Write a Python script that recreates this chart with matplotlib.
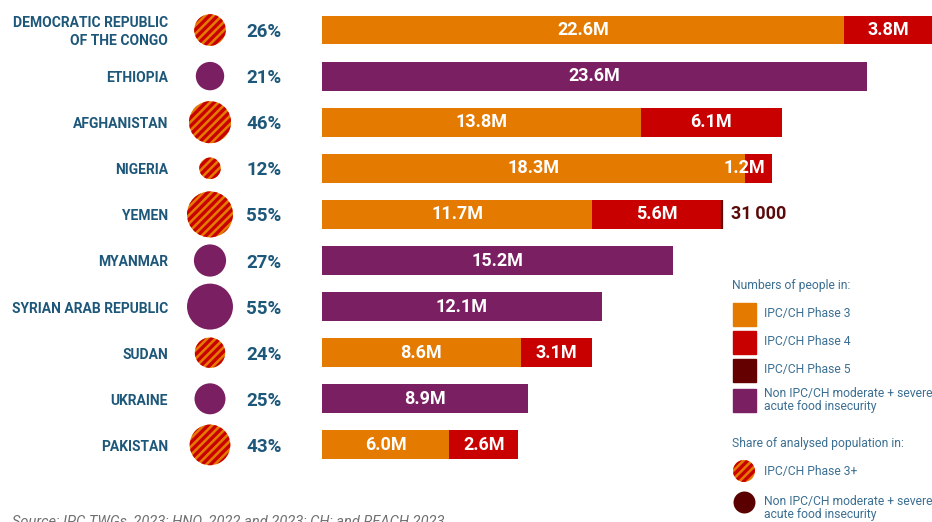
"""Acute food insecurity: ten largest food crises, numbers and shares."""

import matplotlib
matplotlib.use("Agg")
import matplotlib.pyplot as plt
from matplotlib.patches import Rectangle

plt.rcParams["font.family"] = ["Roboto", "DejaVu Sans"]
plt.rcParams["hatch.color"] = "#c80000"
plt.rcParams["hatch.linewidth"] = 2.4

# ---- data -------------------------------------------------------------
countries = [
    "DEMOCRATIC REPUBLIC\nOF THE CONGO", "ETHIOPIA", "AFGHANISTAN", "NIGERIA",
    "YEMEN", "MYANMAR", "SYRIAN ARAB REPUBLIC", "SUDAN", "UKRAINE", "PAKISTAN",
]
share_pct = [26, 21, 46, 12, 55, 27, 55, 24, 25, 43]
ipc_analysed = [True, False, True, True, True, False, False, True, False, True]

# millions of people (Pakistan bar lengths as drawn in the source)
phase3 = [22.6, 0, 13.8, 18.3, 11.7, 0, 0, 8.6, 0, 5.5]
phase4 = [3.8, 0, 6.1, 1.2, 5.6, 0, 0, 3.1, 0, 3.0]
phase5 = [0, 0, 0, 0, 0.031, 0, 0, 0, 0, 0]
non_ipc = [0, 23.6, 0, 0, 0, 15.2, 12.1, 0, 8.9, 0]

phase3_labels = ["22.6M", "", "13.8M", "18.3M", "11.7M", "", "", "8.6M", "", "6.0M"]
phase4_labels = ["3.8M", "", "6.1M", "", "5.6M", "", "", "3.1M", "", "2.6M"]
phase5_labels = ["", "", "", "", "31\u2009000", "", "", "", "", ""]
non_ipc_labels = ["", "23.6M", "", "", "", "15.2M", "12.1M", "", "8.9M", ""]
nigeria_p4_label = "1.2M"

# ---- style ------------------------------------------------------------
ORANGE = "#e57a00"
RED = "#c80000"
MAROON = "#640000"
PURPLE = "#7a1f62"
NAVY = "#1d5779"
LEG_TXT = "#3b6f92"

W, H = 932, 522
PX_PER_M = 23.1          # bar scale, pixels per million
BAR_X0 = 322             # pixel where bars start
ROW0, ROW_STEP = 30, 46.1


def px_to_x(p):
    return (p - BAR_X0) / PX_PER_M


fig = plt.figure(figsize=(W / 100, H / 100), dpi=100)
ax = fig.add_axes([0, 0, 1, 1])
ax.set_xlim(px_to_x(0), px_to_x(W))
ax.set_ylim((H - ROW0) / ROW_STEP, -ROW0 / ROW_STEP)
ax.axis("off")

rows = list(range(len(countries)))
bh = 29 / ROW_STEP

left = [0] * len(rows)
c3 = ax.barh(rows, phase3, left=left, height=bh, color=ORANGE)
left = [a + b for a, b in zip(left, phase3)]
c4 = ax.barh(rows, phase4, left=left, height=bh, color=RED)
left = [a + b for a, b in zip(left, phase4)]
# phase 5 is tiny: give it an edge so it stays visible
c5 = ax.barh(rows, phase5, left=left, height=bh, color=MAROON, edgecolor=MAROON,
             linewidth=[1.6 if v > 0 else 0 for v in phase5])
cn = ax.barh(rows, non_ipc, height=bh, color=PURPLE)

lab_kw = dict(label_type="center", color="white", fontsize=13, fontweight="bold")
ax.bar_label(c3, labels=phase3_labels, **lab_kw)
ax.bar_label(c4, labels=phase4_labels, **lab_kw)
ax.bar_label(cn, labels=non_ipc_labels, **lab_kw)
ax.bar_label(c5, labels=phase5_labels, padding=6, color="#5a0a0a",
             fontsize=13, fontweight="bold")

# Nigeria's phase 4 segment is too narrow: label sits at the bar end
i_ng = countries.index("NIGERIA")
ax.annotate(nigeria_p4_label, (phase3[i_ng] + phase4[i_ng], i_ng),
            xytext=(-5, 0), textcoords="offset points", ha="right", va="center",
            color="white", fontsize=13, fontweight="bold")

# share circles (area proportional to share)
sizes = [p * 19.9 for p in share_pct]
cx = px_to_x(210)
ipc_rows = [r for r in rows if ipc_analysed[r]]
oth_rows = [r for r in rows if not ipc_analysed[r]]
ax.scatter([cx] * len(ipc_rows), ipc_rows, s=[sizes[r] for r in ipc_rows],
           facecolor=ORANGE, edgecolor=RED, linewidths=0, hatch="////", zorder=3)
ax.scatter([cx] * len(oth_rows), oth_rows, s=[sizes[r] for r in oth_rows],
           color=PURPLE, linewidths=0, zorder=3)

dy = 2 / ROW_STEP
for r in rows:
    ax.text(px_to_x(168), r + dy, countries[r], ha="right", va="center",
            fontsize=10, fontweight="bold", color=NAVY, linespacing=1.35)
    ax.text(px_to_x(246), r + dy, f"{share_pct[r]}%", ha="left", va="center",
            fontsize=13.5, fontweight="bold", color=NAVY)

# ---- legend (pixel coordinates) ----------------------------------------
lax = fig.add_axes([0, 0, 1, 1])
lax.set_xlim(0, W)
lax.set_ylim(H, 0)
lax.axis("off")
lax.patch.set_alpha(0)

lkw = dict(fontsize=8.7, color=LEG_TXT, va="center")
lax.text(732, 285, "Numbers of people in:", **lkw)
for yc, col, txt in [(314, ORANGE, "IPC/CH Phase 3"),
                     (342, RED, "IPC/CH Phase 4"),
                     (370, MAROON, "IPC/CH Phase 5"),
                     (400, PURPLE, "Non IPC/CH moderate + severe\nacute food insecurity")]:
    lax.add_patch(Rectangle((733, yc - 11.5), 23, 23, color=col))
    lax.text(764, yc, txt, linespacing=1.0, **lkw)

lax.text(732, 444, "Share of analysed population in:", **lkw)
lax.scatter([744], [471], s=250, facecolor=ORANGE, edgecolor=RED,
            linewidths=0, hatch="////")
lax.text(764, 471, "IPC/CH Phase 3+", **lkw)
lax.scatter([744], [502], s=250, color="#5a0000", linewidths=0)
lax.text(764, 508, "Non IPC/CH moderate + severe\nacute food insecurity",
         linespacing=1.0, **lkw)

fig.text(12 / W, 1 - 514 / H,
         "Source: IPC TWGs, 2023; HNO, 2022 and 2023; CH; and REACH 2023",
         ha="left", va="top", fontsize=10.5, style="italic", color="#707070")

fig.savefig("out.png", dpi=100)
